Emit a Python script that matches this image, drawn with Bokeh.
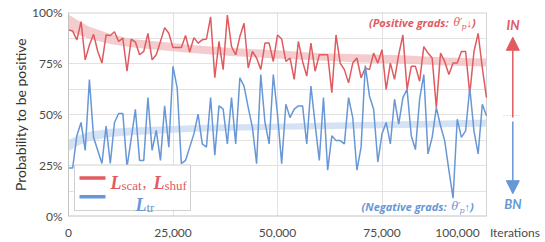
from bokeh.plotting import figure
from bokeh.models import (Range1d, FixedTicker, NumeralTickFormatter, Label,
                          Arrow, NormalHead)
from bokeh.embed import file_html
from bokeh.resources import INLINE

# ---------------- data ----------------
iterations = list(range(0, 100001, 1000))

p_scat_shuf = [
    0.914, 0.909, 0.866, 0.955, 0.768, 0.841, 0.893, 0.809, 0.752, 0.890,
    0.887, 0.906, 0.858, 0.874, 0.712, 0.870, 0.855, 0.793, 0.809, 0.898,
    0.768, 0.793, 0.858, 0.926, 0.898, 0.828, 0.828, 0.828, 0.887, 0.806,
    0.877, 0.850, 0.866, 0.870, 0.979, 0.680, 0.858, 0.720, 0.987, 0.833,
    0.793, 0.882, 0.947, 0.728, 0.809, 0.777, 0.720, 0.850, 0.850, 0.760,
    0.890, 0.870, 0.760, 0.777, 0.672, 0.858, 0.760, 0.688, 0.850, 0.712,
    0.793, 0.793, 0.793, 0.607, 0.890, 0.752, 0.720, 0.655, 0.752, 0.777,
    0.680, 0.728, 0.720, 0.801, 0.752, 0.817, 0.623, 0.752, 0.672, 0.793,
    0.890, 0.623, 0.736, 0.736, 0.663, 0.833, 0.801, 0.777, 0.534, 0.801,
    0.760, 0.696, 0.752, 0.752, 0.809, 0.809, 0.600, 0.809, 0.898, 0.728,
    0.583,
]

p_tr = [
    0.238, 0.238, 0.396, 0.461, 0.324, 0.671, 0.388, 0.324, 0.260, 0.443,
    0.260, 0.461, 0.505, 0.505, 0.243, 0.380, 0.525, 0.275, 0.275, 0.583,
    0.324, 0.422, 0.275, 0.542, 0.340, 0.736, 0.631, 0.259, 0.275, 0.340,
    0.405, 0.502, 0.356, 0.340, 0.583, 0.300, 0.542, 0.526, 0.356, 0.583,
    0.356, 0.680, 0.639, 0.534, 0.437, 0.259, 0.696, 0.461, 0.356, 0.696,
    0.500, 0.259, 0.550, 0.485, 0.526, 0.542, 0.542, 0.356, 0.639, 0.453,
    0.275, 0.583, 0.227, 0.396, 0.372, 0.372, 0.356, 0.583, 0.485, 0.227,
    0.340, 0.740, 0.591, 0.526, 0.267, 0.405, 0.461, 0.356, 0.575, 0.453,
    0.583, 0.623, 0.396, 0.328, 0.575, 0.696, 0.307, 0.388, 0.534, 0.445,
    0.372, 0.227, 0.090, 0.477, 0.388, 0.420, 0.631, 0.420, 0.307, 0.550,
    0.494,
]

# trend bands (lower / upper), read at these iteration values
band_x = [0, 2000, 5000, 10000, 15000, 20000, 25000, 30000, 40000, 50000,
          60000, 70000, 80000, 90000, 100000]
red_band_lo = [0.915, 0.895, 0.870, 0.845, 0.830, 0.820, 0.810, 0.800, 0.785,
               0.775, 0.765, 0.755, 0.750, 0.740, 0.735]
red_band_hi = [0.990, 0.965, 0.930, 0.895, 0.870, 0.860, 0.850, 0.840, 0.825,
               0.815, 0.800, 0.795, 0.790, 0.780, 0.775]
blue_band_lo = [0.320, 0.345, 0.370, 0.390, 0.398, 0.405, 0.410, 0.415, 0.420,
                0.425, 0.428, 0.431, 0.434, 0.437, 0.440]
blue_band_hi = [0.375, 0.395, 0.415, 0.430, 0.436, 0.440, 0.444, 0.448, 0.452,
                0.455, 0.459, 0.463, 0.467, 0.471, 0.475]

X_END = 100000
x_grid_ticks = [25000, 50000, 75000]
# tick labels: "100,000" is printed left of the frame edge and "Iterations" to its right
x_label_ticks = [0, 25000, 50000, 75000, 93060, 106800]
x_label_overrides = {93060: "100,000", 106800: "Iterations"}
y_ticks = [0, 0.25, 0.5, 0.75, 1.0]
y_minor = [0.125, 0.375, 0.625, 0.875]

RED = "#e05a5f"
BLUE = "#6797d6"
EDGE = "#d4d4d4"
FONT = "Lato"
NOTE_FONT = "Open Sans"
SERIF = "Liberation Serif"

W, H = 545, 242
LEFT, TOP, BOTTOM = 68, 12, 24
DATA_W = 418                       # px from x=0 to x=100000
x_max = X_END * (W - LEFT) / DATA_W

p = figure(width=W, height=H, output_backend="svg", toolbar_location=None,
           x_range=Range1d(0, x_max), y_range=Range1d(0, 1),
           min_border_left=LEFT, min_border_right=0, min_border_top=TOP,
           min_border_bottom=BOTTOM)
p.background_fill_color = "white"
p.border_fill_color = "white"
p.outline_line_color = None

p.xaxis.ticker = FixedTicker(ticks=x_label_ticks)
p.xaxis.formatter = NumeralTickFormatter(format="0,0")
p.xaxis.major_label_overrides = x_label_overrides
p.xaxis.axis_line_color = None
p.yaxis.ticker = FixedTicker(ticks=y_ticks, minor_ticks=y_minor)
p.yaxis.formatter = NumeralTickFormatter(format="0%")
p.yaxis.axis_label = "Probability to be positive"
p.yaxis.axis_label_text_font = FONT
p.yaxis.axis_label_text_font_size = "14px"
p.yaxis.axis_label_text_font_style = "normal"
p.yaxis.axis_label_text_color = "#333333"
p.yaxis.axis_label_standoff = 0
p.yaxis.axis_line_color = "#c4c4c4"
for ax in (p.xaxis[0], p.yaxis[0]):
    ax.major_tick_line_color = None
    ax.minor_tick_line_color = None
    ax.major_tick_out = 0
    ax.major_tick_in = 0
    ax.minor_tick_out = 0
    ax.minor_tick_in = 0
    ax.major_label_text_font = FONT
    ax.major_label_text_font_size = "12px"
    ax.major_label_text_color = "#4a4a4a"
p.yaxis.major_label_standoff = 6
p.xaxis.major_label_standoff = 8

p.xgrid.ticker = FixedTicker(ticks=x_grid_ticks)
p.xgrid.grid_line_color = "#e2e2e2"
p.ygrid.grid_line_color = "#e2e2e2"
p.ygrid.minor_grid_line_color = "#e2e2e2"
p.ygrid.cross_bounds = (0, X_END)

# plot-area edges (top, right, bottom)
p.segment(x0=[0, X_END, 0], y0=[1, 0, 0], x1=[X_END, X_END, X_END], y1=[1, 1, 0],
          line_color=[EDGE, EDGE, "#c4c4c4"], line_width=[2, 1, 2])

# bands
p.varea(x=band_x, y1=red_band_lo, y2=red_band_hi, fill_color="#f2bfc0", fill_alpha=0.8)
p.varea(x=band_x, y1=blue_band_lo, y2=blue_band_hi, fill_color="#c3d6ef", fill_alpha=0.7)

# lines
p.line(iterations, p_scat_shuf, line_color=RED, line_width=1.5)
p.line(iterations, p_tr, line_color=BLUE, line_width=1.5)

# helpers: annotation positions given in picture pixels
def dx(px):
    return (px - LEFT) / DATA_W * X_END

def dy(py):
    return (218 - py) / 206

# legend box (drawn over the lines)
p.quad(left=[dx(74)], right=[dx(190)], top=[dy(166)], bottom=[dy(212)],
       fill_color="white", fill_alpha=1.0, line_color="#cfcfcf", line_width=1)
p.segment(x0=[dx(79)], y0=[dy(179)], x1=[dx(105)], y1=[dy(179)],
          line_color=RED, line_width=3.5)
p.segment(x0=[dx(79)], y0=[dy(198)], x1=[dx(105)], y1=[dy(198)],
          line_color=BLUE, line_width=3.5)

def mlab(text, px, py, color, font, size, style="normal", align="left", baseline="alphabetic"):
    p.add_layout(Label(x=dx(px), y=dy(py), text=text, text_color=color,
                       text_font=font, text_font_size=size, text_font_style=style,
                       text_align=align, text_baseline=baseline))

mlab("L", 110, 184, RED, SERIF, "18px", "bold italic")
mlab("scat", 121, 187, RED, SERIF, "13px")
mlab(",", 142, 184, RED, SERIF, "16px")
mlab("L", 153, 184, RED, SERIF, "18px", "bold italic")
mlab("shuf", 164, 187, RED, SERIF, "13px")
mlab("L", 135, 206, BLUE, SERIF, "18px", "bold italic")
mlab("tr", 146, 209, BLUE, SERIF, "13px")

# annotations inside plot
mlab("(Positive grads: ", 451, 22, RED, NOTE_FONT, "11px", "bold italic", "right", "middle")
mlab("\u03b8\u2032", 453, 22, RED, "DejaVu Serif", "11px", "italic", "left", "middle")
mlab("p", 461, 26, RED, "DejaVu Serif", "8px", "italic", "left", "middle")
mlab("\u2193)", 466, 22, RED, NOTE_FONT, "11px", "bold italic", "left", "middle")

mlab("(Negative grads: ", 449, 208, BLUE, NOTE_FONT, "11px", "bold italic", "right", "middle")
mlab("\u03b8\u2032", 451, 208, BLUE, "DejaVu Serif", "11px", "italic", "left", "middle")
mlab("p", 459, 212, BLUE, "DejaVu Serif", "8px", "italic", "left", "middle")
mlab("\u2191)", 464, 208, BLUE, NOTE_FONT, "11px", "bold italic", "left", "middle")

# right-side IN / BN arrows
p.add_layout(Arrow(x_start=dx(512.3), y_start=dy(118), x_end=dx(512.3), y_end=dy(37),
                   end=NormalHead(size=13, fill_color=RED, line_color=RED),
                   line_color=RED, line_width=1.5))
p.add_layout(Arrow(x_start=dx(512.3), y_start=dy(122), x_end=dx(512.3), y_end=dy(195),
                   end=NormalHead(size=13, fill_color=BLUE, line_color=BLUE),
                   line_color=BLUE, line_width=1.5))
p.segment(x0=[dx(503)], y0=[dy(116)], x1=[dx(520)], y1=[dy(116)], line_color="#c8c8c8",
          line_width=1, line_dash="1 2")
mlab("IN", 512.5, 25, RED, FONT, "13px", "bold italic", "center", "middle")
mlab("BN", 512.5, 205, BLUE, FONT, "13px", "bold italic", "center", "middle")

open("out.html", "w").write(file_html(p, INLINE))
